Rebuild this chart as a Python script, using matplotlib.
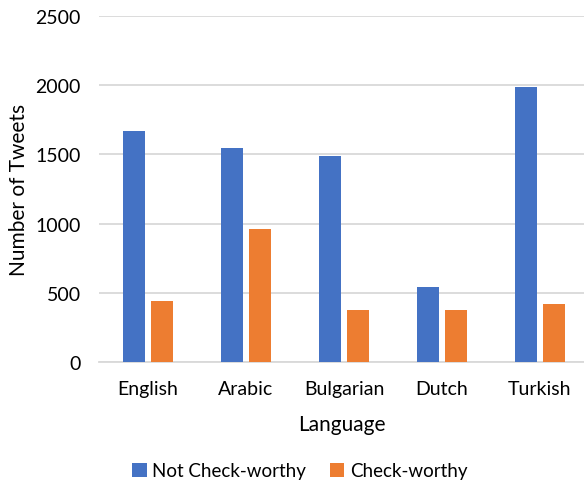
import matplotlib.pyplot as plt
import numpy as np

languages = ['English', 'Arabic', 'Bulgarian', 'Dutch', 'Turkish']
not_check_worthy = [1672, 1546, 1486, 544, 1989]
check_worthy = [443, 958, 373, 373, 419]
yticks = [0, 500, 1000, 1500, 2000, 2500]

plt.rcParams['font.family'] = ['Lato', 'DejaVu Sans']

fig = plt.figure(figsize=(5.84, 4.89), dpi=100)
ax = fig.add_axes([99 / 584, 1 - 363 / 489, 1 - 99 / 584, (363 - 17) / 489])

x = np.arange(len(languages))
w = 0.225
ax.bar(x - 0.14, not_check_worthy, w, color='#4472C4', label='Not Check-worthy', zorder=3)
ax.bar(x + 0.14, check_worthy, w, color='#ED7D31', label='Check-worthy', zorder=3)

ax.set_xlim(-0.5, 4.45)
ax.set_ylim(0, 2500)
ax.set_yticks(yticks)
ax.set_xticks(x)
ax.set_xticklabels(languages)
ax.tick_params(length=0, labelsize=14, colors='#000000')
ax.tick_params(axis='x', pad=13)
ax.tick_params(axis='y', pad=13)
ax.yaxis.grid(True, color='#d9d9d9', linewidth=1.3, zorder=0)
for s in ['top', 'right', 'left']:
    ax.spines[s].set_visible(False)
ax.spines['bottom'].set_color('#d9d9d9')
ax.spines['bottom'].set_linewidth(1.3)

ax.set_xlabel('Language', fontsize=15, labelpad=12)
ax.set_ylabel('Number of Tweets', fontsize=15, labelpad=5)

fig.legend(loc='center', bbox_to_anchor=(300 / 584, 1 - 472 / 489), ncol=2, frameon=False,
           fontsize=13.5, handlelength=0.75, handleheight=0.75, columnspacing=1.3, handletextpad=0.3)

fig.savefig('out.png', dpi=100)
